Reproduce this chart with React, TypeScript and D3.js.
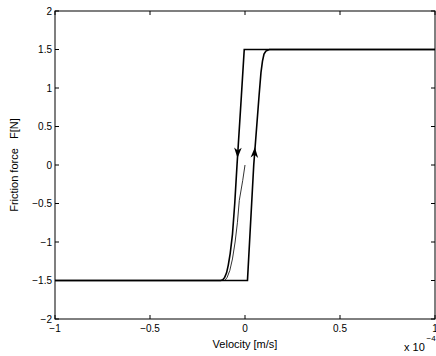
import React from "react";
import * as d3 from "d3";

// velocity in units of 1e-4 m/s, force in N
const descVel = [1, -0.004, -0.019, -0.042, -0.054, -0.066, -0.078, -0.088, -0.097, -0.107, -0.117, -0.128, -1];
const descF = [1.5, 1.5, 0.9, 0.0, -0.5, -0.9, -1.15, -1.3, -1.4, -1.46, -1.49, -1.5, -1.5];
const ascVel = [-1, 0.013, 0.035, 0.046, 0.074, 0.084, 0.092, 0.1, 0.11, 0.128, 1];
const ascF = [-1.5, -1.5, -0.5, 0.0, 0.9, 1.2, 1.35, 1.44, 1.48, 1.5, 1.5];
const initVel = [0, -0.012, -0.03, -0.04, -0.052, -0.066, -0.08, -0.094, -0.106, -1];
const initF = [0, -0.2, -0.46, -0.75, -1.0, -1.22, -1.37, -1.46, -1.5, -1.5];
const xTicks = [-1, -0.5, 0, 0.5, 1];
const yTicks = [-2, -1.5, -1, -0.5, 0, 0.5, 1, 1.5, 2];
const arrowDown = { v: -0.0395, f: 0.09 };
const arrowUp = { v: 0.052, f: 0.23 };

const W = 436, H = 356;
const L = 55, R = 435, T = 11, B = 319;

export default function App() {
  const x = d3.scaleLinear().domain([-1, 1]).range([L, R]);
  const y = d3.scaleLinear().domain([-2, 2]).range([B, T]);
  const line = d3.line<[number, number]>().x(d => x(d[0])).y(d => y(d[1]));
  const zip = (a: number[], b: number[]) => a.map((v, i) => [v, b[i]] as [number, number]);
  const fmt = (t: number) => (t < 0 ? "\u2212" + Math.abs(t) : String(t));

  const arrow = (px: number, py: number, dir: number, dx: number) => {
    const len = 10.5, hw = 3.8, notch = 3;
    const ang = Math.atan2(dir * len, dx * len);
    const ux = Math.cos(ang), uy = Math.sin(ang);
    const nx = -uy, ny = ux;
    const bx = px - ux * len, by = py - uy * len;
    const p = [
      [px, py],
      [bx + nx * hw, by + ny * hw],
      [px - ux * (len - notch), py - uy * (len - notch)],
      [bx - nx * hw, by - ny * hw],
    ];
    return "M" + p.map(q => q.join(",")).join("L") + "Z";
  };

  const font = "Liberation Sans, Arial, Helvetica, sans-serif";
  return (
    <svg width={W} height={H} style={{ position: "absolute", left: 0, top: 0 }} fontFamily={font}>
      <rect x={0} y={0} width={W} height={H} fill="white" />
      <path d={line(zip(initVel, initF)) || ""} fill="none" stroke="black" strokeWidth={0.8} />
      <path d={line(zip(descVel, descF)) || ""} fill="none" stroke="black" strokeWidth={1.6} />
      <path d={line(zip(ascVel, ascF)) || ""} fill="none" stroke="black" strokeWidth={1.6} />
      <path d={arrow(x(arrowDown.v), y(arrowDown.f), 1, -0.04)} fill="black" />
      <path d={arrow(x(arrowUp.v), y(arrowUp.f), -1, 0.05)} fill="black" />
      <rect x={L} y={T} width={R - L} height={B - T} fill="none" stroke="black" strokeWidth={1} />
      {xTicks.map(t => (
        <g key={"x" + t}>
          <line x1={x(t)} x2={x(t)} y1={B} y2={B - 4} stroke="black" />
          <line x1={x(t)} x2={x(t)} y1={T} y2={T + 4} stroke="black" />
          <text x={x(t)} y={B + 13} fontSize={10} textAnchor="middle">{fmt(t)}</text>
        </g>
      ))}
      {yTicks.map(t => (
        <g key={"y" + t}>
          <line x1={L} x2={L + 4} y1={y(t)} y2={y(t)} stroke="black" />
          <line x1={R} x2={R - 4} y1={y(t)} y2={y(t)} stroke="black" />
          <text x={L - 3} y={y(t) + 3.5} fontSize={10} textAnchor="end">{fmt(t)}</text>
        </g>
      ))}
      <text x={x(0)} y={B + 29} fontSize={11} textAnchor="middle">Velocity [m/s]</text>
      <text x={404} y={B + 32} fontSize={11}>x 10</text>
      <text x={426.5} y={B + 22} fontSize={8}>{"\u22124"}</text>
      <text transform={`translate(18,${y(0)}) rotate(-90)`} fontSize={11} textAnchor="middle" xmlSpace="preserve">{"Friction force   F[N]"}</text>
    </svg>
  );
}
